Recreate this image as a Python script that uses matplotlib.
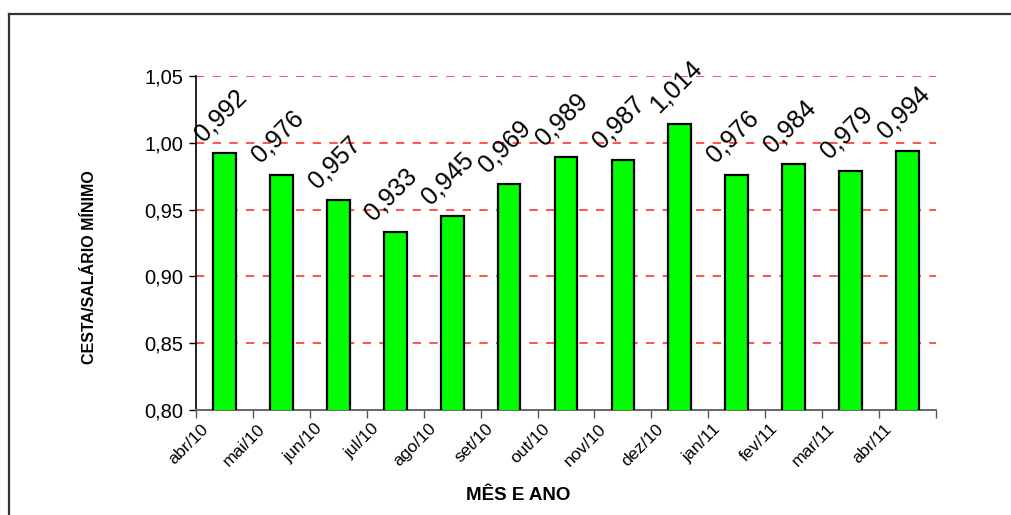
import matplotlib
matplotlib.use("Agg")
import matplotlib.pyplot as plt
from matplotlib.lines import Line2D
from matplotlib.transforms import ScaledTranslation
import numpy as np

plt.rcParams['font.family'] = ['Liberation Sans', 'DejaVu Sans']

categories = ["abr/10", "mai/10", "jun/10", "jul/10", "ago/10", "set/10", "out/10",
              "nov/10", "dez/10", "jan/11", "fev/11", "mar/11", "abr/11"]
values = [0.992, 0.976, 0.957, 0.933, 0.945, 0.969, 0.989, 0.987, 1.014,
          0.976, 0.984, 0.979, 0.994]
value_labels = ["0,992", "0,976", "0,957", "0,933", "0,945", "0,969", "0,989",
                "0,987", "1,014", "0,976", "0,984", "0,979", "0,994"]
yticks = [0.80, 0.85, 0.90, 0.95, 1.00, 1.05]
ytick_labels = ["0,80", "0,85", "0,90", "0,95", "1,00", "1,05"]
ylabel = "CESTA/SALÁRIO MÍNIMO"
xlabel = "MÊS E ANO"

W, H = 1011, 515
fig = plt.figure(figsize=(W / 100, H / 100), dpi=100)
fig.patch.set_facecolor("white")

ax = fig.add_axes([196 / W, 1 - 410 / H, (936 - 196) / W, (410 - 76) / H])

x = np.arange(len(categories))
ax.bar(x, values, width=0.4, color="#00FF00", edgecolor="black", linewidth=1.6, zorder=3)

ax.set_xlim(-0.5, len(categories) - 0.5)
ax.set_ylim(0.80, 1.05)

# grid lines
for yv in yticks[1:]:
    ax.axhline(yv, color="#FF3333", linestyle=(0, (5, 5)), linewidth=1.2, zorder=1)

ax.set_yticks(yticks)
ax.set_yticklabels(ytick_labels, fontsize=14.5)
ax.tick_params(axis="y", direction="out", length=5, width=1, pad=4, colors="black")

# x ticks: labels at centers (offset), tick marks at boundaries
ax.set_xticks(x)
ax.set_xticklabels(categories, fontsize=12.5, rotation=45, ha="right", va="top",
                   rotation_mode="anchor")
ax.tick_params(axis="x", which="major", length=0, pad=8)
offset = ScaledTranslation(-24 / 100, 0, fig.dpi_scale_trans)
for lab in ax.get_xticklabels():
    lab.set_transform(lab.get_transform() + offset)
ax.set_xticks(np.arange(-0.5, len(categories) + 0.5, 1.0), minor=True)
ax.tick_params(axis="x", which="minor", direction="out", length=6, width=1, color="#555555")

for s in ["top", "right"]:
    ax.spines[s].set_visible(False)
ax.spines["left"].set_color("black")
ax.spines["left"].set_linewidth(1.2)
ax.spines["bottom"].set_color("#666666")
ax.spines["bottom"].set_linewidth(1.4)

# value labels
for xi, v, lab in zip(x, values, value_labels):
    ax.annotate(lab, xy=(xi, v), xytext=(-4, 38), textcoords="offset pixels",
                ha="center", va="center", rotation=45, fontsize=18, zorder=4)

# axis titles
fig.text(518 / W, 1 - 496 / H, xlabel, ha="center", va="center",
         fontsize=13.5, fontweight="bold")
fig.text(90 / W, 1 - 267 / H, ylabel, ha="center", va="center", rotation=90,
         fontsize=11.5, fontweight="bold")

# outer border (top and left)
fig.add_artist(Line2D([9 / W, 1.0], [1 - 14 / H, 1 - 14 / H], transform=fig.transFigure,
                      color="#333333", linewidth=1.6))
fig.add_artist(Line2D([9 / W, 9 / W], [0, 1 - 14 / H], transform=fig.transFigure,
                      color="#333333", linewidth=1.6))

fig.savefig("out.png", dpi=100)
